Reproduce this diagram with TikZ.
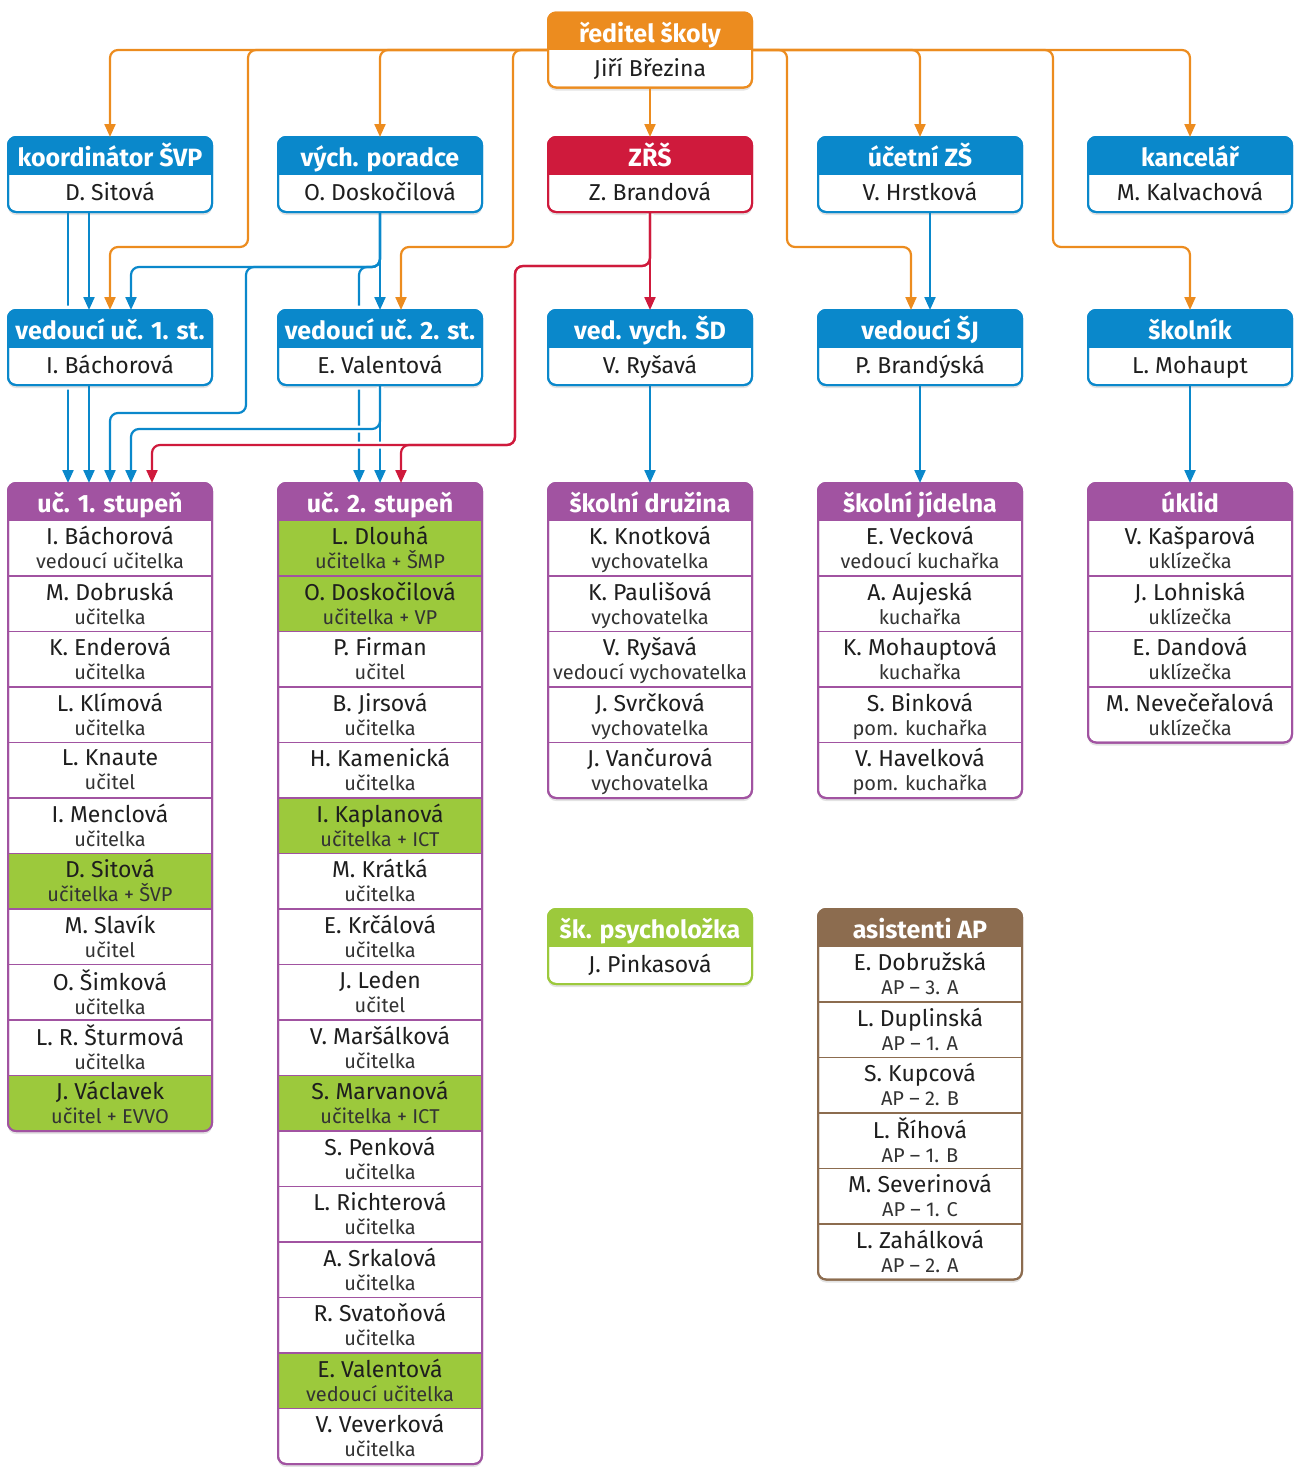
\documentclass[tikz,border=0pt]{standalone}
\usepackage{fontspec}
\setmainfont{Fira Sans}
\usetikzlibrary{positioning,arrows.meta,shadows}

\definecolor{orng}{HTML}{EC8C1F}
\definecolor{blu}{HTML}{0A88CB}
\definecolor{rd}{HTML}{CF1A3C}
\definecolor{purp}{HTML}{A153A1}
\definecolor{grn}{HTML}{9CC93C}
\definecolor{brwn}{HTML}{8C6C4F}
\definecolor{txt}{HTML}{1E1E1E}
\definecolor{rolec}{HTML}{333333}

\newcommand\duty[1]{\raisebox{0pt}[\height][0pt]{\fontsize{20}{24}\selectfont\color{rolec}#1}}

\pgfdeclarelayer{back}
\pgfsetlayers{back,main}

\tikzset{
  box/.style={rectangle, rounded corners=8pt, minimum width=204pt, inner sep=0pt, outer sep=0pt, line width=2pt, fill=white, drop shadow={opacity=.22, shadow xshift=0pt, shadow yshift=-3pt}},
  halo/.style={preaction={draw=white, line width=9pt}},
  rim/.style={line width=2pt, rounded corners=8pt},
  head/.style={rectangle, minimum width=204pt, minimum height=37.5pt, inner sep=0pt, outer sep=0pt, text=white, font=\bfseries\fontsize{25}{27}\selectfont, text height=24pt, text depth=2pt},
  who/.style={rectangle, minimum width=204pt, minimum height=37.5pt, inner sep=0pt, outer sep=0pt, text=txt, font=\fontsize{23}{24}\selectfont, text height=17pt, text depth=2pt},
  entry/.style={rectangle, draw=#1, line width=1.5pt, minimum width=204pt, minimum height=55.5pt, inner sep=0pt, outer sep=0pt, align=center, text=txt, font=\fontsize{23}{24}\selectfont, execute at begin node={\rule{0pt}{30pt}}, execute at end node={\rule[-1pt]{0pt}{1pt}}},
  hl/.style={fill=grn},
  con/.style={line width=2.2pt, rounded corners=8pt},
  arr/.style={-{Triangle[length=13pt,width=11pt]}},
  jump/.style={preaction={draw=white, line width=7pt, arrows=-, shorten >=14pt, shorten <=2pt}}
}

\begin{document}
\begin{tikzpicture}[x=1pt, y=-1pt]
\useasboundingbox (0,0) rectangle (1293,1467);

% top: reditel
\node[box, draw=orng, minimum height=75pt] (reditel) at (650,50) {};
\begin{scope}
  \clip[rounded corners=8pt] (reditel.north west) rectangle (reditel.south east);
  \node[head, fill=orng, anchor=north] (reditelH) at (reditel.north) {ředitel školy};
\end{scope}
\node[who, anchor=south] (reditelN) at (reditel.south) {Jiří Březina};
\draw[rim, orng] (reditel.north west) rectangle (reditel.south east);

% second row
\node[box, draw=blu, minimum height=75pt] (koord) at (110,174.5) {};
\begin{scope}
  \clip[rounded corners=8pt] (koord.north west) rectangle (koord.south east);
  \node[head, fill=blu, anchor=north] (koordH) at (koord.north) {koordinátor ŠVP};
\end{scope}
\node[who, anchor=south] (koordN) at (koord.south) {D. Sitová};
\draw[rim, blu] (koord.north west) rectangle (koord.south east);

\node[box, draw=blu, minimum height=75pt] (porad) at (380,174.5) {};
\begin{scope}
  \clip[rounded corners=8pt] (porad.north west) rectangle (porad.south east);
  \node[head, fill=blu, anchor=north] (poradH) at (porad.north) {vých. poradce};
\end{scope}
\node[who, anchor=south] (poradN) at (porad.south) {O. Doskočilová};
\draw[rim, blu] (porad.north west) rectangle (porad.south east);

\node[box, draw=rd, minimum height=75pt] (zrs) at (650,174.5) {};
\begin{scope}
  \clip[rounded corners=8pt] (zrs.north west) rectangle (zrs.south east);
  \node[head, fill=rd, anchor=north] (zrsH) at (zrs.north) {ZŘŠ};
\end{scope}
\node[who, anchor=south] (zrsN) at (zrs.south) {Z. Brandová};
\draw[rim, rd] (zrs.north west) rectangle (zrs.south east);

\node[box, draw=blu, minimum height=75pt] (ucet) at (920,174.5) {};
\begin{scope}
  \clip[rounded corners=8pt] (ucet.north west) rectangle (ucet.south east);
  \node[head, fill=blu, anchor=north] (ucetH) at (ucet.north) {účetní ZŠ};
\end{scope}
\node[who, anchor=south] (ucetN) at (ucet.south) {V. Hrstková};
\draw[rim, blu] (ucet.north west) rectangle (ucet.south east);

\node[box, draw=blu, minimum height=75pt] (kanc) at (1190,174.5) {};
\begin{scope}
  \clip[rounded corners=8pt] (kanc.north west) rectangle (kanc.south east);
  \node[head, fill=blu, anchor=north] (kancH) at (kanc.north) {kancelář};
\end{scope}
\node[who, anchor=south] (kancN) at (kanc.south) {M. Kalvachová};
\draw[rim, blu] (kanc.north west) rectangle (kanc.south east);

% third row
\node[halo, box, draw=blu, minimum height=75pt] (ved1) at (110,347.5) {};
\begin{scope}
  \clip[rounded corners=8pt] (ved1.north west) rectangle (ved1.south east);
  \node[head, fill=blu, anchor=north] (ved1H) at (ved1.north) {vedoucí uč. 1. st.};
\end{scope}
\node[who, anchor=south] (ved1N) at (ved1.south) {I. Báchorová};
\draw[rim, blu] (ved1.north west) rectangle (ved1.south east);

\node[halo, box, draw=blu, minimum height=75pt] (ved2) at (380,347.5) {};
\begin{scope}
  \clip[rounded corners=8pt] (ved2.north west) rectangle (ved2.south east);
  \node[head, fill=blu, anchor=north] (ved2H) at (ved2.north) {vedoucí uč. 2. st.};
\end{scope}
\node[who, anchor=south] (ved2N) at (ved2.south) {E. Valentová};
\draw[rim, blu] (ved2.north west) rectangle (ved2.south east);

\node[box, draw=blu, minimum height=75pt] (vedsd) at (650,347.5) {};
\begin{scope}
  \clip[rounded corners=8pt] (vedsd.north west) rectangle (vedsd.south east);
  \node[head, fill=blu, anchor=north] (vedsdH) at (vedsd.north) {ved. vych. ŠD};
\end{scope}
\node[who, anchor=south] (vedsdN) at (vedsd.south) {V. Ryšavá};
\draw[rim, blu] (vedsd.north west) rectangle (vedsd.south east);

\node[box, draw=blu, minimum height=75pt] (vedsj) at (920,347.5) {};
\begin{scope}
  \clip[rounded corners=8pt] (vedsj.north west) rectangle (vedsj.south east);
  \node[head, fill=blu, anchor=north] (vedsjH) at (vedsj.north) {vedoucí ŠJ};
\end{scope}
\node[who, anchor=south] (vedsjN) at (vedsj.south) {P. Brandýská};
\draw[rim, blu] (vedsj.north west) rectangle (vedsj.south east);

\node[box, draw=blu, minimum height=75pt] (skoln) at (1190,347.5) {};
\begin{scope}
  \clip[rounded corners=8pt] (skoln.north west) rectangle (skoln.south east);
  \node[head, fill=blu, anchor=north] (skolnH) at (skoln.north) {školník};
\end{scope}
\node[who, anchor=south] (skolnN) at (skoln.south) {L. Mohaupt};
\draw[rim, blu] (skoln.north west) rectangle (skoln.south east);

% lists
\node[box, draw=purp, minimum height=648pt, anchor=north] (uc1) at (110,483) {};
\begin{scope}
  \clip[rounded corners=8pt] (uc1.north west) rectangle (uc1.south east);
  \node[head, fill=purp, anchor=north] (uc1H) at (uc1.north) {uč. 1. stupeň};
  \node[entry=purp, below=0pt of uc1H] (uc1a) {I. Báchorová\\\duty{vedoucí učitelka}};
  \node[entry=purp, below=0pt of uc1a] (uc1b) {M. Dobruská\\\duty{učitelka}};
  \node[entry=purp, below=0pt of uc1b] (uc1c) {K. Enderová\\\duty{učitelka}};
  \node[entry=purp, below=0pt of uc1c] (uc1d) {L. Klímová\\\duty{učitelka}};
  \node[entry=purp, below=0pt of uc1d] (uc1e) {L. Knaute\\\duty{učitel}};
  \node[entry=purp, below=0pt of uc1e] (uc1f) {I. Menclová\\\duty{učitelka}};
  \node[entry=purp, hl, below=0pt of uc1f] (uc1g) {D. Sitová\\\duty{učitelka + ŠVP}};
  \node[entry=purp, below=0pt of uc1g] (uc1h) {M. Slavík\\\duty{učitel}};
  \node[entry=purp, below=0pt of uc1h] (uc1i) {O. Šimková\\\duty{učitelka}};
  \node[entry=purp, below=0pt of uc1i] (uc1j) {L. R. Šturmová\\\duty{učitelka}};
  \node[entry=purp, hl, below=0pt of uc1j] (uc1k) {J. Václavek\\\duty{učitel + EVVO}};
\end{scope}
\draw[rim, purp] (uc1.north west) rectangle (uc1.south east);

\node[box, draw=purp, minimum height=981pt, anchor=north] (uc2) at (380,483) {};
\begin{scope}
  \clip[rounded corners=8pt] (uc2.north west) rectangle (uc2.south east);
  \node[head, fill=purp, anchor=north] (uc2H) at (uc2.north) {uč. 2. stupeň};
  \node[entry=purp, hl, below=0pt of uc2H] (uc2a) {L. Dlouhá\\\duty{učitelka + ŠMP}};
  \node[entry=purp, hl, below=0pt of uc2a] (uc2b) {O. Doskočilová\\\duty{učitelka + VP}};
  \node[entry=purp, below=0pt of uc2b] (uc2c) {P. Firman\\\duty{učitel}};
  \node[entry=purp, below=0pt of uc2c] (uc2d) {B. Jirsová\\\duty{učitelka}};
  \node[entry=purp, below=0pt of uc2d] (uc2e) {H. Kamenická\\\duty{učitelka}};
  \node[entry=purp, hl, below=0pt of uc2e] (uc2f) {I. Kaplanová\\\duty{učitelka + ICT}};
  \node[entry=purp, below=0pt of uc2f] (uc2g) {M. Krátká\\\duty{učitelka}};
  \node[entry=purp, below=0pt of uc2g] (uc2h) {E. Krčálová\\\duty{učitelka}};
  \node[entry=purp, below=0pt of uc2h] (uc2i) {J. Leden\\\duty{učitel}};
  \node[entry=purp, below=0pt of uc2i] (uc2j) {V. Maršálková\\\duty{učitelka}};
  \node[entry=purp, hl, below=0pt of uc2j] (uc2k) {S. Marvanová\\\duty{učitelka + ICT}};
  \node[entry=purp, below=0pt of uc2k] (uc2l) {S. Penková\\\duty{učitelka}};
  \node[entry=purp, below=0pt of uc2l] (uc2m) {L. Richterová\\\duty{učitelka}};
  \node[entry=purp, below=0pt of uc2m] (uc2n) {A. Srkalová\\\duty{učitelka}};
  \node[entry=purp, below=0pt of uc2n] (uc2o) {R. Svatoňová\\\duty{učitelka}};
  \node[entry=purp, hl, below=0pt of uc2o] (uc2p) {E. Valentová\\\duty{vedoucí učitelka}};
  \node[entry=purp, below=0pt of uc2p] (uc2q) {V. Veverková\\\duty{učitelka}};
\end{scope}
\draw[rim, purp] (uc2.north west) rectangle (uc2.south east);

\node[box, draw=purp, minimum height=315pt, anchor=north] (druz) at (650,483) {};
\begin{scope}
  \clip[rounded corners=8pt] (druz.north west) rectangle (druz.south east);
  \node[head, fill=purp, anchor=north] (druzH) at (druz.north) {školní družina};
  \node[entry=purp, below=0pt of druzH] (druza) {K. Knotková\\\duty{vychovatelka}};
  \node[entry=purp, below=0pt of druza] (druzb) {K. Paulišová\\\duty{vychovatelka}};
  \node[entry=purp, below=0pt of druzb] (druzc) {V. Ryšavá\\\duty{vedoucí vychovatelka}};
  \node[entry=purp, below=0pt of druzc] (druzd) {J. Svrčková\\\duty{vychovatelka}};
  \node[entry=purp, below=0pt of druzd] (druze) {J. Vančurová\\\duty{vychovatelka}};
\end{scope}
\draw[rim, purp] (druz.north west) rectangle (druz.south east);

\node[box, draw=purp, minimum height=315pt, anchor=north] (jid) at (920,483) {};
\begin{scope}
  \clip[rounded corners=8pt] (jid.north west) rectangle (jid.south east);
  \node[head, fill=purp, anchor=north] (jidH) at (jid.north) {školní jídelna};
  \node[entry=purp, below=0pt of jidH] (jida) {E. Vecková\\\duty{vedoucí kuchařka}};
  \node[entry=purp, below=0pt of jida] (jidb) {A. Aujeská\\\duty{kuchařka}};
  \node[entry=purp, below=0pt of jidb] (jidc) {K. Mohauptová\\\duty{kuchařka}};
  \node[entry=purp, below=0pt of jidc] (jidd) {S. Binková\\\duty{pom. kuchařka}};
  \node[entry=purp, below=0pt of jidd] (jide) {V. Havelková\\\duty{pom. kuchařka}};
\end{scope}
\draw[rim, purp] (jid.north west) rectangle (jid.south east);

\node[box, draw=purp, minimum height=259.5pt, anchor=north] (uklid) at (1190,483) {};
\begin{scope}
  \clip[rounded corners=8pt] (uklid.north west) rectangle (uklid.south east);
  \node[head, fill=purp, anchor=north] (uklidH) at (uklid.north) {úklid};
  \node[entry=purp, below=0pt of uklidH] (uklida) {V. Kašparová\\\duty{uklízečka}};
  \node[entry=purp, below=0pt of uklida] (uklidb) {J. Lohniská\\\duty{uklízečka}};
  \node[entry=purp, below=0pt of uklidb] (uklidc) {E. Dandová\\\duty{uklízečka}};
  \node[entry=purp, below=0pt of uklidc] (uklidd) {M. Nevečeřalová\\\duty{uklízečka}};
\end{scope}
\draw[rim, purp] (uklid.north west) rectangle (uklid.south east);

% psycholozka, asistenti
\node[box, draw=grn, minimum height=75pt] (psych) at (650,946.5) {};
\begin{scope}
  \clip[rounded corners=8pt] (psych.north west) rectangle (psych.south east);
  \node[head, fill=grn, anchor=north] (psychH) at (psych.north) {šk. psycholožka};
\end{scope}
\node[who, anchor=south] (psychN) at (psych.south) {J. Pinkasová};
\draw[rim, grn] (psych.north west) rectangle (psych.south east);

\node[box, draw=brwn, minimum height=370.5pt, anchor=north] (asist) at (920,909) {};
\begin{scope}
  \clip[rounded corners=8pt] (asist.north west) rectangle (asist.south east);
  \node[head, fill=brwn, anchor=north] (asistH) at (asist.north) {asistenti AP};
  \node[entry=brwn, below=0pt of asistH] (asista) {E. Dobružská\\\duty{AP – 3. A}};
  \node[entry=brwn, below=0pt of asista] (asistb) {L. Duplinská\\\duty{AP – 1. A}};
  \node[entry=brwn, below=0pt of asistb] (asistc) {S. Kupcová\\\duty{AP – 2. B}};
  \node[entry=brwn, below=0pt of asistc] (asistd) {L. Říhová\\\duty{AP – 1. B}};
  \node[entry=brwn, below=0pt of asistd] (asiste) {M. Severinová\\\duty{AP – 1. C}};
  \node[entry=brwn, below=0pt of asiste] (asistf) {L. Zahálková\\\duty{AP – 2. A}};
\end{scope}
\draw[rim, brwn] (asist.north west) rectangle (asist.south east);

% orange lines from reditel
\draw[con, orng, arr] (reditel.west) -| (koord.north);
\draw[con, orng, arr] (reditel.west) -| (248,247) -| (ved1.north);
\draw[con, orng, arr] (reditel.west) -| (porad.north);
\draw[con, orng, arr] (reditel.west) -| (513,247) -| ([xshift=21pt]ved2.north);
\draw[con, orng, arr] (reditel.south) -- (zrs.north);
\draw[con, orng, arr] (reditel.east) -| (787,247) -| ([xshift=-9pt]vedsj.north);
\draw[con, orng, arr] (reditel.east) -| (ucet.north);
\draw[con, orng, arr] (reditel.east) -| (1053,247) -| (skoln.north);
\draw[con, orng, arr] (reditel.east) -| (kanc.north);

% blue lines
\begin{pgfonlayer}{back}
\draw[con, blu, arr] ([xshift=-42pt]koord.south) -- ([xshift=-42pt]uc1.north);
\draw[con, blu, arr] (porad.south) |- (359,267) -- ([xshift=-21pt]uc2.north);
\end{pgfonlayer}
\draw[con, blu, arr] ([xshift=-21pt]koord.south) -- ([xshift=-21pt]ved1.north);
\draw[con, blu, arr] (porad.south) |- (131,267) -- ([xshift=21pt]ved1.north);
\draw[con, blu, arr] (porad.south) |- (246,267) |- (110,413) -- (uc1.north);
\draw[con, blu, arr] (porad.south) -- (ved2.north);
\draw[con, blu, arr] ([xshift=-21pt]ved1.south) -- ([xshift=-21pt]uc1.north);
\draw[con, blu, arr, jump] (ved2.south) |- (131,429) -- ([xshift=21pt]uc1.north);
\draw[con, blu, arr] (ved2.south) -- (uc2.north);
\draw[con, blu, arr] ([xshift=10pt]ucet.south) -- ([xshift=10pt]vedsj.north);
\draw[con, blu, arr] (vedsd.south) -- (druz.north);
\draw[con, blu, arr] (vedsj.south) -- (jid.north);
\draw[con, blu, arr] (skoln.south) -- (uklid.north);

% red lines from zrs
\draw[con, rd, arr, jump] (zrs.south) |- (515,266) |- (152,445) -- ([xshift=42pt]uc1.north);
\draw[con, rd, arr] (zrs.south) |- (515,266) |- (401,445) -- ([xshift=21pt]uc2.north);
\draw[con, rd, arr] (zrs.south) -- (vedsd.north);
\end{tikzpicture}
\end{document}
